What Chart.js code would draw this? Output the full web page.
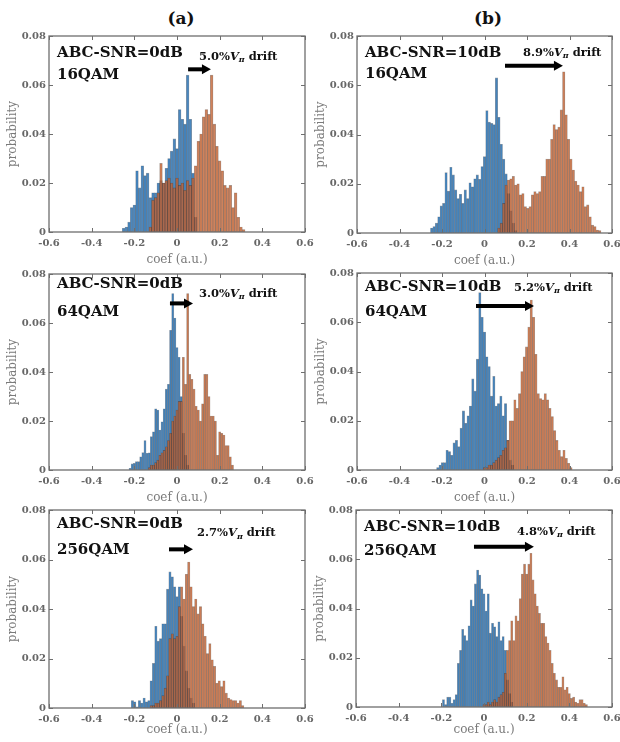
<!DOCTYPE html>
<html><head><meta charset="utf-8">
<script src="https://cdn.jsdelivr.net/npm/chart.js@4"></script>
<style>
html,body{margin:0;padding:0;background:#fff;width:620px;height:742px;overflow:hidden;position:relative}
canvas.panel{position:absolute}
.hdr{position:absolute;font:bold 17px "DejaVu Serif";color:#111;transform:translate(-50%,-50%);white-space:nowrap}
</style></head><body>
<div class="hdr" style="left:181px;top:18px">(a)</div>
<div class="hdr" style="left:488px;top:18px">(b)</div>
<script>
// ---------- data ----------
const snrLabels = ['ABC-SNR=0dB','ABC-SNR=10dB','ABC-SNR=0dB','ABC-SNR=10dB','ABC-SNR=0dB','ABC-SNR=10dB'];
const qamLabels = ['16QAM','16QAM','64QAM','64QAM','256QAM','256QAM'];
const driftPct  = ['5.0%','8.9%','3.0%','5.2%','2.7%','4.8%'];
const xTickStep = 0.2;
const yTickStep = 0.02;
const binWidth    = [0.0125, 0.0113, 0.01, 0.011, 0.011, 0.01];
const blueStart   = [-0.25, -0.25, -0.22, -0.224, -0.21, -0.19];
const orangeStart = [-0.125, 0.07, -0.13, 0.0, -0.12, 0.0];
const arrowFrom   = [0.052, 0.0965, -0.033, -0.04, -0.0375, -0.047];
const arrowTo     = [0.159, 0.369, 0.075, 0.233, 0.075, 0.234];

const blue16_0 = [0.0015,0.002,0.004,0.010,0.011,0.025,0.018,0.027,0.023,0.024,0.014,0.016,0.016,0.020,0.021,0.020,0.026,0.030,0.033,0.038,0.034,0.050,0.046,0.044,0.064,0.046,0.024,0.006];
const orange16_0 = [0.002,0.013,0.014,0.016,0.028,0.020,0.021,0.022,0.020,0.018,0.022,0.019,0.020,0.017,0.021,0.019,0.022,0.027,0.037,0.040,0.047,0.050,0.048,0.064,0.044,0.035,0.029,0.025,0.019,0.018,0.019,0.010,0.016,0.006,0.002,0.001];
const blue16_10 = [0.002,0.0026,0.004,0.0066,0.011,0.012,0.0245,0.017,0.0267,0.0236,0.0175,0.014,0.0157,0.012,0.0175,0.014,0.0204,0.0188,0.022,0.0236,0.0218,0.027,0.031,0.0497,0.045,0.0445,0.044,0.063,0.047,0.036,0.030,0.024,0.016,0.009,0.004,0.001];
const orange16_10 = [0.002,0.004,0.012,0.0195,0.0215,0.022,0.023,0.0195,0.020,0.0155,0.016,0.0107,0.010,0.0107,0.0155,0.0168,0.016,0.0168,0.023,0.023,0.030,0.030,0.038,0.044,0.042,0.043,0.050,0.0655,0.048,0.038,0.030,0.0256,0.021,0.0195,0.0168,0.0188,0.0107,0.0114,0.0066,0.0032,0.0026,0.0012,0.001];
const blue64_0 = [0.0007,0.0025,0.0027,0.0034,0.0034,0.0054,0.0071,0.012,0.0068,0.007,0.0136,0.0156,0.025,0.0245,0.0163,0.0197,0.025,0.033,0.035,0.057,0.072,0.062,0.050,0.046,0.030,0.015,0.006,0.002];
const orange64_0 = [0.001,0.002,0.002,0.003,0.004,0.006,0.007,0.008,0.0095,0.012,0.015,0.020,0.022,0.0245,0.028,0.028,0.046,0.035,0.072,0.039,0.037,0.033,0.026,0.0245,0.020,0.027,0.039,0.039,0.030,0.022,0.022,0.020,0.006,0.0156,0.015,0.0143,0.010,0.010,0.0054,0.002];
const blue64_10 = [0.001,0.002,0.003,0.003,0.008,0.0075,0.006,0.011,0.012,0.0095,0.017,0.024,0.019,0.022,0.026,0.037,0.032,0.045,0.072,0.062,0.056,0.046,0.042,0.030,0.038,0.026,0.027,0.030,0.022,0.027,0.012,0.004,0.002];
const orange64_10 = [0.001,0.001,0.002,0.002,0.003,0.004,0.005,0.006,0.008,0.009,0.012,0.020,0.020,0.0285,0.025,0.031,0.040,0.046,0.050,0.058,0.069,0.062,0.047,0.031,0.029,0.0285,0.031,0.0285,0.025,0.0217,0.016,0.012,0.008,0.0055,0.008,0.0047,0.0027,0.001];
const blue256_0 = [0.003,0.0025,0.0005,0.003,0.002,0.004,0.0025,0.003,0.011,0.018,0.033,0.027,0.028,0.034,0.034,0.048,0.055,0.053,0.049,0.045,0.049,0.037,0.025,0.015,0.008,0.004,0.002];
const orange256_0 = [0.001,0.001,0.002,0.002,0.003,0.005,0.008,0.013,0.028,0.030,0.028,0.029,0.041,0.049,0.044,0.054,0.059,0.049,0.041,0.044,0.038,0.041,0.034,0.029,0.022,0.026,0.0195,0.0168,0.010,0.011,0.0087,0.011,0.006,0.004,0.0034,0.003,0.003,0.002,0.003,0.001];
const blue256_10 = [0.003,0.001,0.004,0.004,0.0015,0.003,0.005,0.0177,0.023,0.0315,0.029,0.027,0.033,0.0435,0.041,0.050,0.0556,0.0536,0.048,0.046,0.039,0.046,0.030,0.034,0.0326,0.0286,0.0346,0.027,0.0286,0.023,0.011,0.0055,0.002];
const orange256_10 = [0.001,0.001,0.002,0.001,0.002,0.003,0.002,0.004,0.005,0.006,0.0137,0.023,0.027,0.035,0.027,0.037,0.035,0.044,0.054,0.058,0.054,0.058,0.0624,0.0516,0.046,0.041,0.038,0.034,0.034,0.0286,0.026,0.023,0.0177,0.0137,0.011,0.008,0.008,0.0123,0.007,0.008,0.0055,0.0035,0.004,0.002,0.0015,0.003,0.003,0.0015,0.001];

const blueSeries   = [blue16_0, blue16_10, blue64_0, blue64_10, blue256_0, blue256_10];
const orangeSeries = [orange16_0, orange16_10, orange64_0, orange64_10, orange256_0, orange256_10];

// ---------- layout (pixels / data-space anchors for annotations) ----------
const layoutRects = [
  {l:49,t:36,r:305,b:232,xh:40,tpb:5},
  {l:357,t:36,r:612,b:233,xh:40,tpb:5},
  {l:49,t:274,r:305,b:470,xh:40,tpb:5},
  {l:357,t:273,r:612,b:470,xh:40,tpb:5},
  {l:49,t:510,r:305,b:708,xh:34,tpb:5},
  {l:356,t:510,r:612,b:707,xh:35,tpb:5}
];
const annot = [
  {lx:-0.5625, l1:0.0731, l2:0.0641, tx:0.103, ty:0.0716, ay:0.0664},
  {lx:-0.5625, l1:0.0731, l2:0.0646, tx:0.181, ty:0.0731, ay:0.0679},
  {lx:-0.5625, l1:0.0759, l2:0.0645, tx:0.103, ty:0.0720, ay:0.0680},
  {lx:-0.5625, l1:0.0743, l2:0.0642, tx:0.139, ty:0.0739, ay:0.0666},
  {lx:-0.5625, l1:0.0743, l2:0.0638, tx:0.094, ty:0.0705, ay:0.0641},
  {lx:-0.5625, l1:0.0731, l2:0.0633, tx:0.155, ty:0.0711, ay:0.0651}
];

const FAM = '"DejaVu Serif", serif';

function binned(start, w, vals){
  const k0 = Math.round(start / w);
  return vals.map((v,i)=>({x:+((k0+i)*w).toFixed(6), y:v}));
}

const framePlugin = {
  id:'frame',
  afterDraw(chart, args, opts){
    const i = opts.idx;
    const {ctx, chartArea:a, scales:{x, y}} = chart;
    ctx.save();
    ctx.strokeStyle = '#6e6e6e';
    ctx.lineWidth = 1.3;
    ctx.strokeRect(a.left, a.top, a.right - a.left, a.bottom - a.top);
    ctx.lineWidth = 1;
    ctx.beginPath();
    x.ticks.forEach(t=>{
      const px = Math.round(x.getPixelForValue(t.value)) + 0.5;
      ctx.moveTo(px, a.bottom); ctx.lineTo(px, a.bottom - 4);
      ctx.moveTo(px, a.top); ctx.lineTo(px, a.top + 4);
    });
    y.ticks.forEach(t=>{
      const py = Math.round(y.getPixelForValue(t.value)) + 0.5;
      ctx.moveTo(a.left, py); ctx.lineTo(a.left + 4, py);
      ctx.moveTo(a.right, py); ctx.lineTo(a.right - 4, py);
    });
    ctx.stroke();

    const an = annot[i];
    ctx.fillStyle = '#111';
    ctx.textBaseline = 'middle';
    ctx.textAlign = 'left';
    ctx.font = 'bold 15px ' + FAM;
    ctx.fillText(snrLabels[i], x.getPixelForValue(an.lx), y.getPixelForValue(an.l1));
    ctx.fillText(qamLabels[i], x.getPixelForValue(an.lx), y.getPixelForValue(an.l2));

    // arrow
    const ay = y.getPixelForValue(an.ay);
    const ax0 = x.getPixelForValue(arrowFrom[i]);
    const ax1 = x.getPixelForValue(arrowTo[i]);
    ctx.strokeStyle = '#000';
    ctx.fillStyle = '#000';
    ctx.lineWidth = 4;
    ctx.beginPath(); ctx.moveTo(ax0, ay); ctx.lineTo(ax1 - 6, ay); ctx.stroke();
    ctx.beginPath(); ctx.moveTo(ax1, ay); ctx.lineTo(ax1 - 9, ay - 5); ctx.lineTo(ax1 - 9, ay + 5); ctx.closePath(); ctx.fill();

    // drift text
    let tx = x.getPixelForValue(an.tx);
    const ty = y.getPixelForValue(an.ty);
    ctx.fillStyle = '#111';
    ctx.font = 'bold 11.5px ' + FAM;
    ctx.fillText(driftPct[i], tx, ty); tx += ctx.measureText(driftPct[i]).width;
    ctx.font = 'italic bold 11.5px ' + FAM;
    ctx.fillText('V', tx, ty); tx += ctx.measureText('V').width;
    ctx.font = 'italic bold 8px ' + FAM;
    ctx.fillText('\u03C0', tx, ty + 3); tx += ctx.measureText('\u03C0').width;
    ctx.font = 'bold 11.5px ' + FAM;
    ctx.fillText(' drift', tx, ty);
    ctx.restore();
  }
};

layoutRects.forEach((L, i)=>{
  const cv = document.createElement('canvas');
  cv.className = 'panel';
  const W = (L.r - L.l) + 49 + 10;
  const H = (L.b - L.t) + 20 + L.xh;
  cv.width = W; cv.height = H;
  cv.style.left = (L.l - 49) + 'px';
  cv.style.top = (L.t - 20) + 'px';
  cv.style.width = W + 'px'; cv.style.height = H + 'px';
  document.body.appendChild(cv);
  const w = binWidth[i];
  new Chart(cv, {
    type:'bar',
    data:{datasets:[
      {data:binned(orangeStart[i], w, orangeSeries[i]), backgroundColor:'rgba(200,100,50,0.76)', borderColor:'rgba(60,35,25,0.45)', borderWidth:0.6, borderSkipped:false, grouped:false, order:0, barPercentage:1, categoryPercentage:1},
      {data:binned(blueStart[i], w, blueSeries[i]), backgroundColor:'rgba(40,115,180,0.82)', borderColor:'rgba(25,40,60,0.45)', borderWidth:0.6, borderSkipped:false, grouped:false, order:1, barPercentage:1, categoryPercentage:1}
    ]},
    options:{
      responsive:false, animation:false, devicePixelRatio:1,
      layout:{padding:{top:20, right:10, left:0, bottom:0}},
      plugins:{legend:{display:false}, tooltip:{enabled:false}, frame:{idx:i}},
      scales:{
        x:{type:'linear', min:-0.6, max:0.6, offset:false,
           grid:{display:false, drawTicks:false, offset:false}, border:{display:false},
           ticks:{stepSize:xTickStep, autoSkip:false, maxRotation:0, padding:5, color:'#666',
                  font:{family:FAM, size:10, weight:'bold'},
                  callback:v=>Math.abs(v)<1e-9 ? '0' : (+v).toFixed(1)},
           title:{display:true, text:'coef (a.u.)', color:'#7a7a7a', font:{family:FAM, size:12}, padding:{top:0, bottom:L.tpb}},
           afterFit:s=>{s.height = L.xh; s.paddingLeft = 0; s.paddingRight = 0;}},
        y:{type:'linear', min:0, max:0.08,
           grid:{display:false, drawTicks:false}, border:{display:false},
           ticks:{stepSize:yTickStep, padding:3, color:'#666',
                  font:{family:FAM, size:10, weight:'bold'},
                  callback:v=>Math.abs(v)<1e-9 ? '0' : (+v).toFixed(2)},
           title:{display:true, text:'probability', color:'#7a7a7a', font:{family:FAM, size:12}, padding:{top:6, bottom:0}},
           afterFit:s=>{s.width = 49; s.paddingTop = 0; s.paddingBottom = 0;}}
      }
    },
    plugins:[framePlugin]
  });
});
</script>
</body></html>
